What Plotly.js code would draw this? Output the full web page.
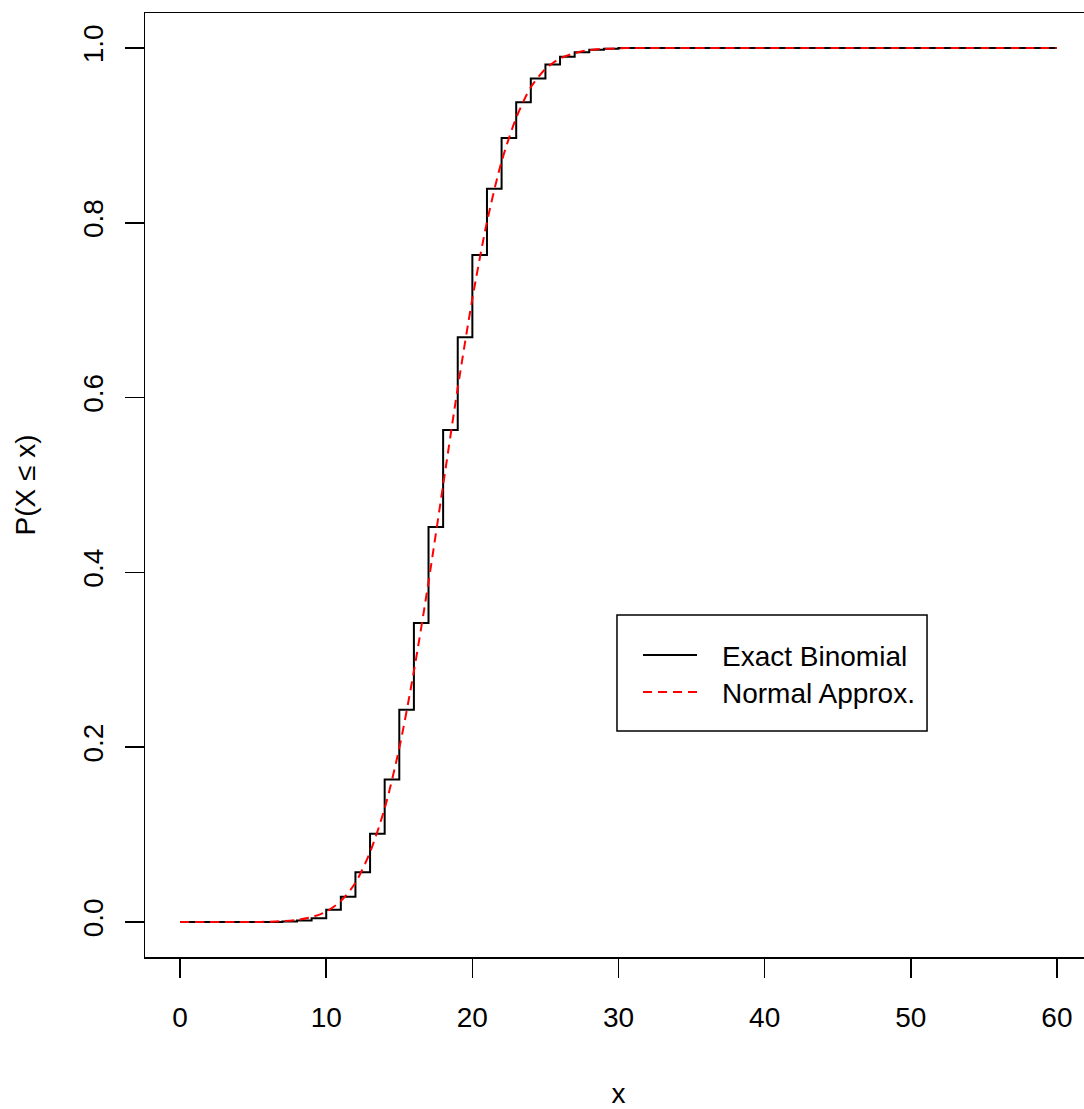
<!DOCTYPE html>
<html>
<head>
<meta charset="utf-8">
<script src="https://cdn.plot.ly/plotly-3.0.1.min.js"></script>
<style>
  html, body { margin: 0; padding: 0; overflow: hidden; background: #fff; }
  #chart { width: 1100px; height: 1109px; }
</style>
</head>
<body>
<div id="chart"></div>
<script>
// x values (number of successes)
const xValues = [0,1,2,3,4,5,6,7,8,9,10,11,12,13,14,15,16,17,18,19,20,
  21,22,23,24,25,26,27,28,29,30,31,32,33,34,35,36,37,38,39,40,
  41,42,43,44,45,46,47,48,49,50,51,52,53,54,55,56,57,58,59,60];

// Exact binomial CDF, read from the step heights
const exactBinomial = [0,0,0,0,0,0,0,0.0005,0.0017,0.0044,0.014,
  0.029,0.057,0.101,0.163,0.243,0.342,0.452,0.563,0.669,0.763,
  0.839,0.897,0.938,0.965,0.981,0.990,0.995,0.998,0.999,1,
  1,1,1,1,1,1,1,1,1,1,
  1,1,1,1,1,1,1,1,1,1,
  1,1,1,1,1,1,1,1,1,1];

// Normal approximation at each integer x
const normalApprox = [0,0,0,0,0,0,0.0004,0.001,0.0024,0.0056,0.012,
  0.024,0.045,0.080,0.130,0.199,0.287,0.389,0.500,0.611,0.713,
  0.801,0.870,0.920,0.955,0.976,0.988,0.994,0.9976,0.999,0.9996,
  1,1,1,1,1,1,1,1,1,1,
  1,1,1,1,1,1,1,1,1,1,
  1,1,1,1,1,1,1,1,1,1];

const seriesNames = ["Exact Binomial", "Normal Approx."];
const xTicks = [0,10,20,30,40,50,60];
const yTicks = [0,0.2,0.4,0.6,0.8,1.0];
const yTickLabels = ["0.0","0.2","0.4","0.6","0.8","1.0"];

const FONT = "Liberation Sans, Arial, Helvetica, sans-serif";
const BLACK = "#000000";
const RED = "#ff0000";
const DASH = "9px,6px";

const traces = [
  {
    x: xValues, y: exactBinomial, name: seriesNames[0],
    type: "scatter", mode: "lines", showlegend: false,
    line: { color: BLACK, width: 2, shape: "hv" }
  },
  {
    x: xValues, y: normalApprox, name: seriesNames[1],
    type: "scatter", mode: "lines", showlegend: false,
    line: { color: RED, width: 2, dash: DASH, shape: "spline", smoothing: 0.8 }
  }
];

// Legend drawn in paper coordinates (R-style boxed legend)
const lg = { x0: 0.4984, x1: 0.8258, y0: 0.2394, y1: 0.3623,
             sx0: 0.5259, sx1: 0.5829, tx: 0.6075, rows: [0.3199, 0.2807] };

const shapes = [
  { type: "rect", xref: "paper", yref: "paper", x0: lg.x0, x1: lg.x1, y0: lg.y0, y1: lg.y1,
    line: { color: BLACK, width: 1.5 }, fillcolor: "#ffffff", layer: "above" },
  { type: "line", xref: "paper", yref: "paper", x0: lg.sx0, x1: lg.sx1, y0: lg.rows[0], y1: lg.rows[0],
    line: { color: BLACK, width: 2 }, layer: "above" },
  { type: "line", xref: "paper", yref: "paper", x0: lg.sx0, x1: lg.sx1, y0: lg.rows[1], y1: lg.rows[1],
    line: { color: RED, width: 2, dash: DASH }, layer: "above" }
];

const annotations = seriesNames.map((name, i) => ({
  text: name, xref: "paper", yref: "paper", x: lg.tx, y: lg.rows[i] - 0.002,
  xanchor: "left", yanchor: "middle", showarrow: false,
  font: { family: FONT, size: 28, color: BLACK }
}));

const layout = {
  width: 1100, height: 1109,
  margin: { l: 145, r: 8, t: 13, b: 152 },
  paper_bgcolor: "#ffffff", plot_bgcolor: "#ffffff",
  font: { family: FONT, size: 28, color: BLACK },
  showlegend: false,
  shapes: shapes,
  annotations: annotations,
  xaxis: {
    range: [-2.4, 62.4], autorange: false,
    tickmode: "array", tickvals: xTicks, ticktext: xTicks.map(String),
    ticks: "outside", ticklen: 19, tickwidth: 1.5, tickcolor: BLACK,
    ticklabelstandoff: 16,
    showline: true, linecolor: BLACK, linewidth: 1.5, mirror: true,
    showgrid: false, zeroline: false,
    tickfont: { family: FONT, size: 28, color: BLACK },
    title: { text: "x", font: { family: FONT, size: 28, color: BLACK }, standoff: 63 }
  },
  yaxis: {
    range: [-0.04, 1.04], autorange: false,
    tickmode: "array", tickvals: yTicks, ticktext: yTickLabels,
    tickangle: -90,
    ticks: "outside", ticklen: 19, tickwidth: 1.5, tickcolor: BLACK,
    ticklabelstandoff: 10,
    showline: true, linecolor: BLACK, linewidth: 1.5, mirror: true,
    showgrid: false, zeroline: false,
    tickfont: { family: FONT, size: 28, color: BLACK },
    title: { text: "P(X ≤ x)", font: { family: FONT, size: 28, color: BLACK }, standoff: 34 }
  }
};

Plotly.newPlot("chart", traces, layout, { displayModeBar: false, staticPlot: true });
</script>
</body>
</html>
